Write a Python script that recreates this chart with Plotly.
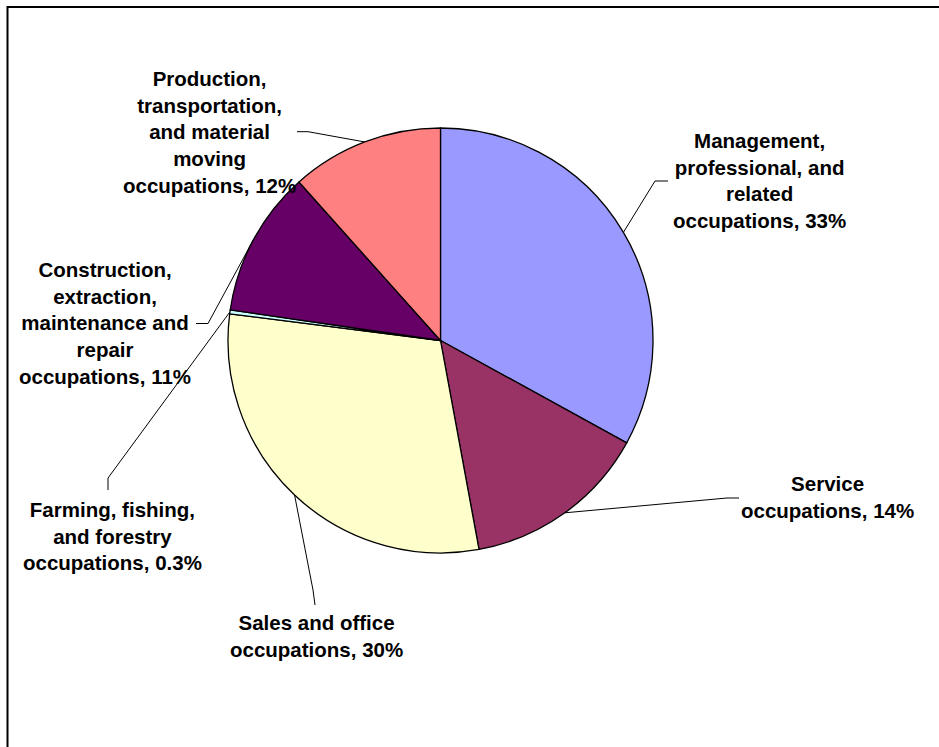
import math
import plotly.graph_objects as go

# ---- data ----
categories = [
    "Management,<br>professional, and<br>related<br>occupations",
    "Service<br>occupations",
    "Sales and office<br>occupations",
    "Farming, fishing,<br>and forestry<br>occupations",
    "Construction,<br>extraction,<br>maintenance and<br>repair<br>occupations",
    "Production,<br>transportation,<br>and material<br>moving<br>occupations",
]
shares = [33.0, 14.1, 29.9, 0.3, 11.1, 11.6]
colors = ["#9999FF", "#993366", "#FFFFCC", "#CCFFFF", "#660066", "#FF8080"]

# ---- layout geometry (pixels) ----
W, H = 939, 747
CX, CY, R = 440.5, 340.5, 212.5
label_pos = [(759, 180), (827, 496.5), (316.5, 636), (112.5, 536), (105, 323), (209, 131.5)]
elbows = [
    [(655, 181), (668, 181)],
    [(727, 498), (739, 498)],
    [(313, 590), (315, 605)],
    [(108, 478), (108, 490)],
    [(208, 323.5), (196, 323.5)],
    [(308, 131.7), (297, 131.7)],
]
FONT = dict(family="Liberation Sans, Arial, sans-serif", size=20.5, color="black")

fig = go.Figure()

total = sum(shares)
cum = 0.0
for i, v in enumerate(shares):
    mid = (cum + v / 2) / total * 2 * math.pi
    cum += v
    sx = CX + R * math.sin(mid)
    sy = CY - R * math.cos(mid)
    xs = [sx] + [p[0] for p in elbows[i]]
    ys = [sy] + [p[1] for p in elbows[i]]
    fig.add_trace(go.Scatter(x=xs, y=ys, mode="lines", line=dict(color="black", width=1),
                             hoverinfo="skip", showlegend=False))

fig.add_trace(go.Pie(
    labels=categories, values=shares, sort=False, direction="clockwise", rotation=0,
    marker=dict(colors=colors, line=dict(color="black", width=1.3)),
    textinfo="none", showlegend=False,
    domain=dict(x=[(CX - R) / W, (CX + R) / W], y=[(H - CY - R) / H, (H - CY + R) / H]),
))

def pct(v):
    return f"{v:.0f}%" if v >= 1 else f"{v:.1f}%"

for (lx, ly), name, v in zip(label_pos, categories, shares):
    fig.add_annotation(x=lx, y=ly, xref="x", yref="y", text=f"<b>{name}, {pct(v)}</b>",
                       showarrow=False, align="center", xanchor="center", yanchor="middle",
                       font=FONT)

fig.add_shape(type="rect", xref="x", yref="y", x0=7.5, y0=7, x1=990, y1=800,
              line=dict(color="black", width=2), layer="above")

fig.update_layout(
    width=W, height=H, margin=dict(l=0, r=0, t=0, b=0),
    paper_bgcolor="white", plot_bgcolor="rgba(0,0,0,0)",
    xaxis=dict(range=[0, W], visible=False, fixedrange=True, domain=[0, 1]),
    yaxis=dict(range=[H, 0], visible=False, fixedrange=True, domain=[0, 1]),
    showlegend=False,
)

fig.write_html("out.html", config={"displayModeBar": False},
               post_script="document.body.style.margin='0';document.body.style.overflow='hidden';")
